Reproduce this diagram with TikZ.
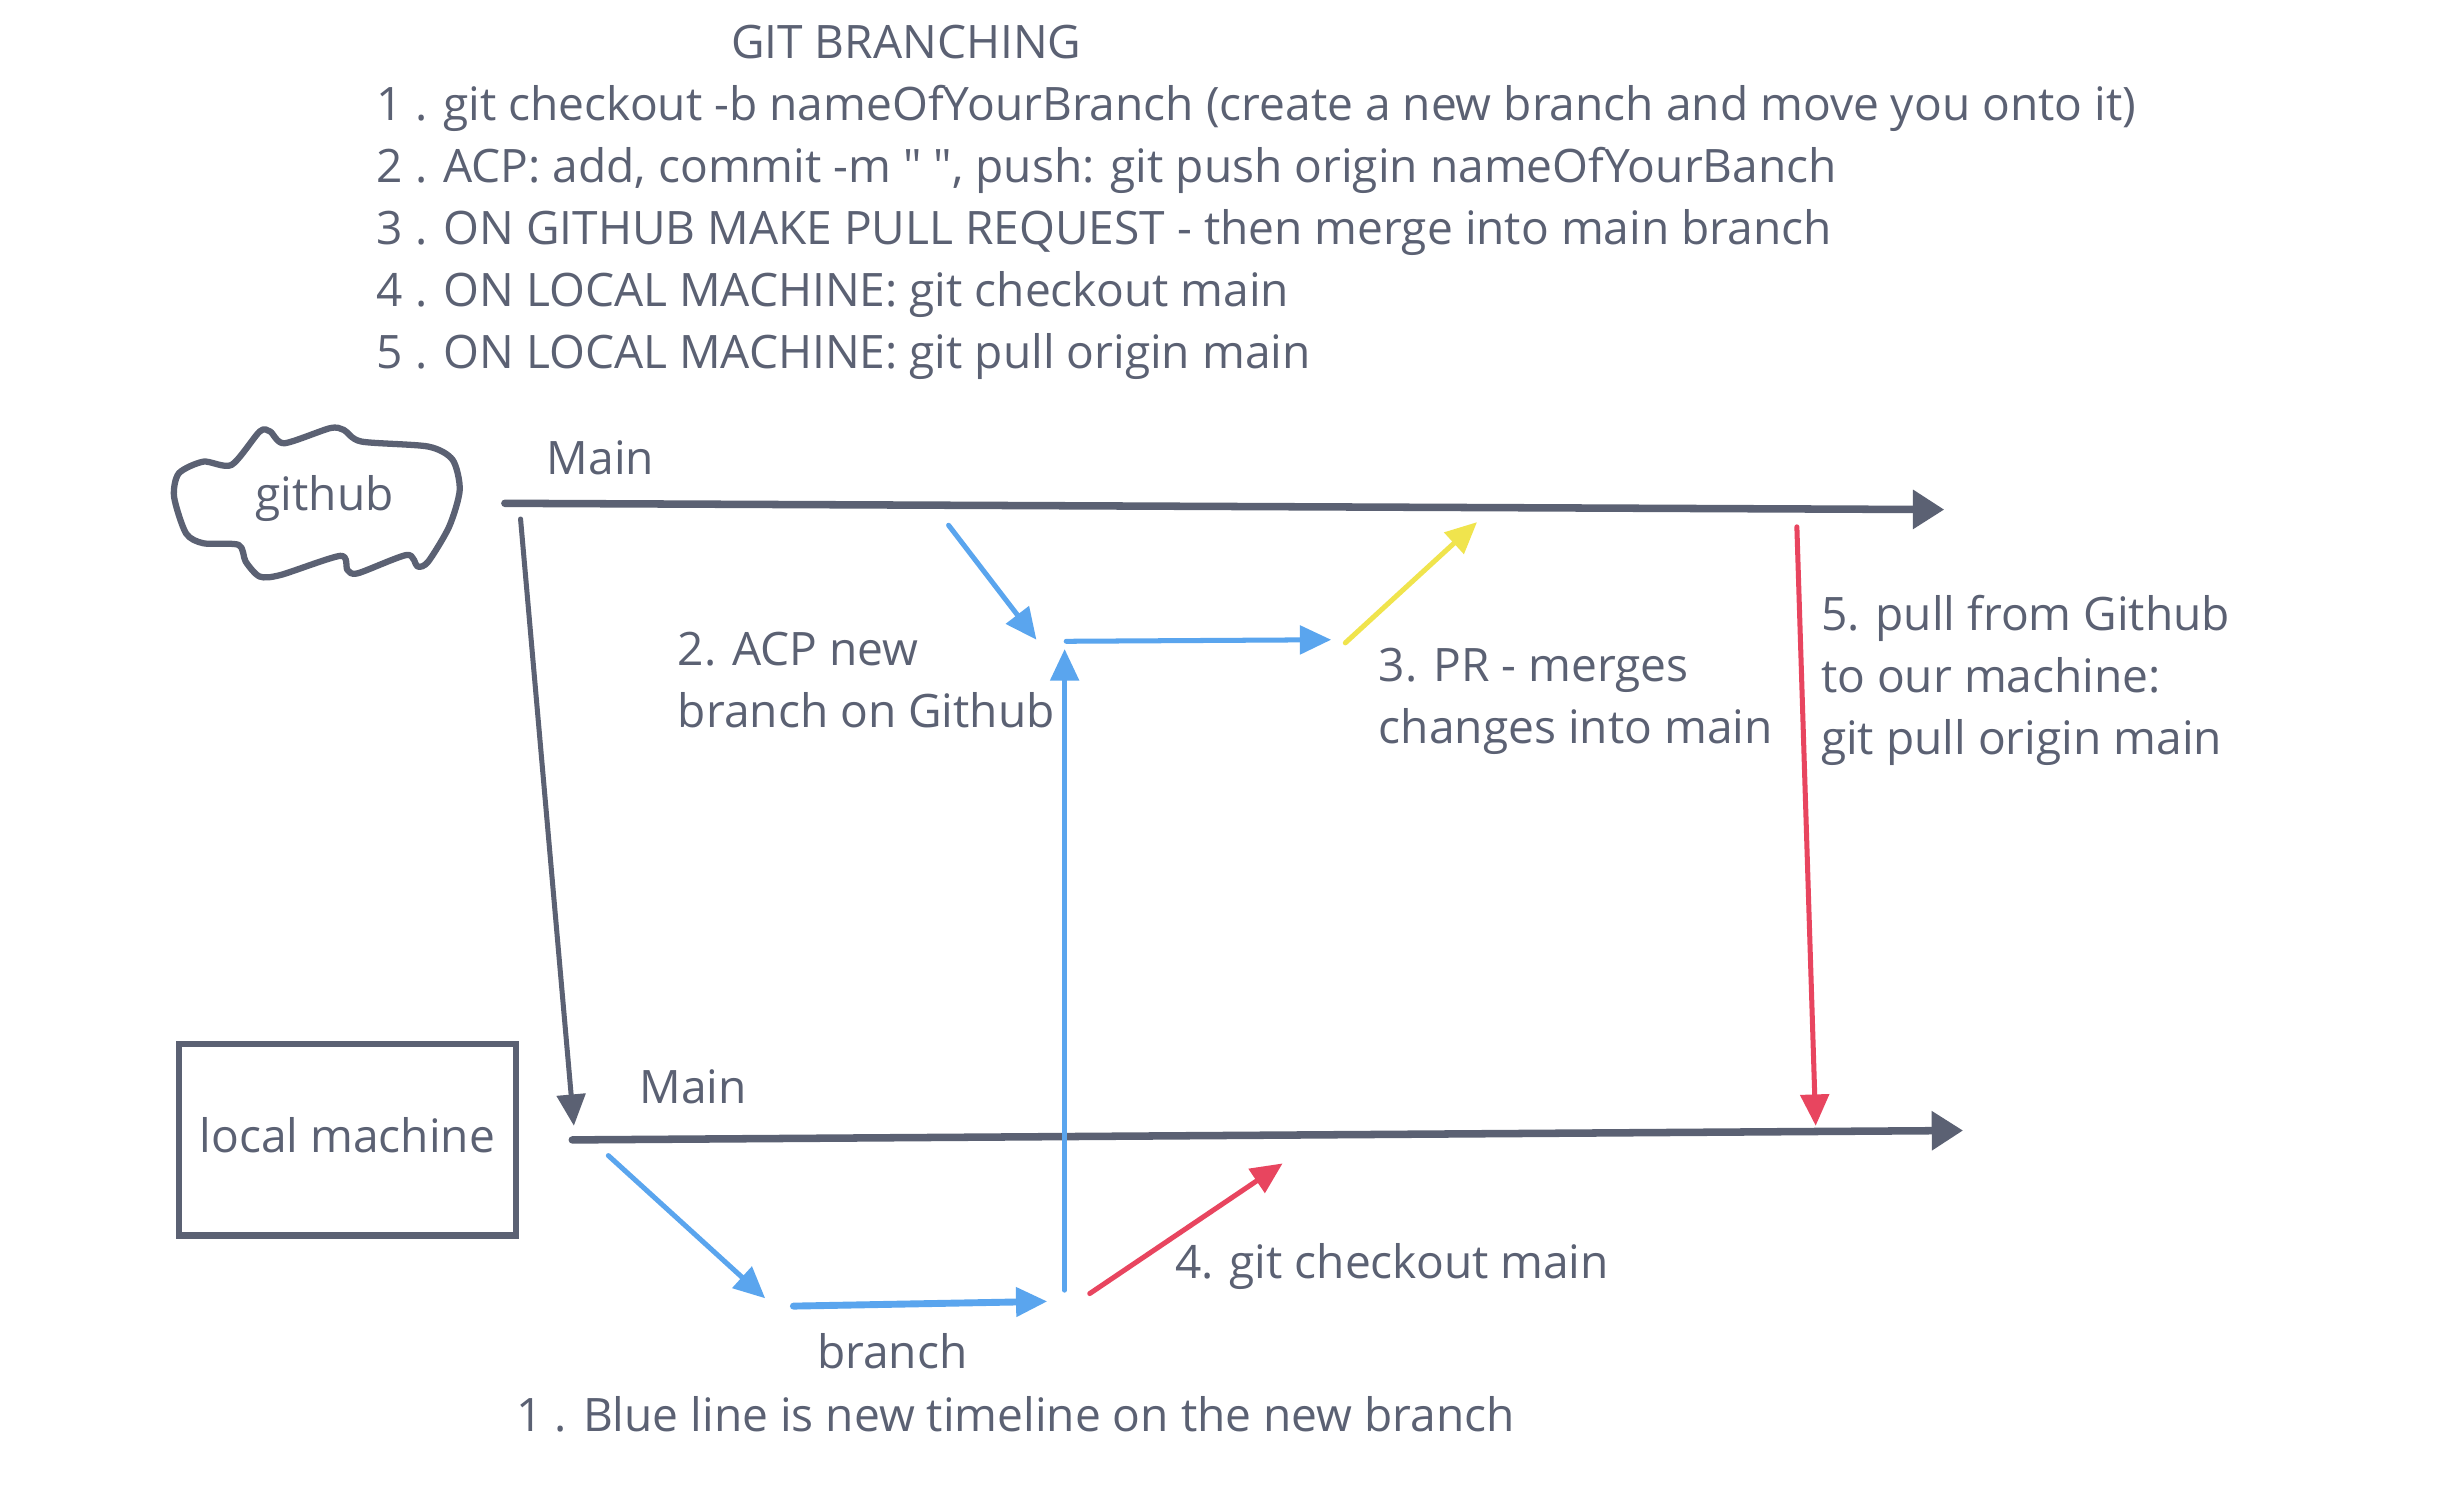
\documentclass[tikz,border=0pt]{standalone}
\usepackage{fontspec}
\setmainfont{Open Sans}
\usetikzlibrary{arrows.meta}
\definecolor{ink}{HTML}{5B6173}
\definecolor{bl}{HTML}{5AA5EE}
\definecolor{ye}{HTML}{F0E44D}
\definecolor{rd}{HTML}{E8455F}
\newcommand\straightdq{\XeTeXglyph\XeTeXcharglyph"22\relax}
\tikzset{
  txt/.style={text=ink, font=\fontsize{14.7}{19.75}\selectfont, inner sep=0pt, align=left},
  mainline/.style={draw=ink, line width=2.4pt, line cap=round, -{Triangle[length=10pt,width=12pt]}},
  thinarr/.style={line width=1.6pt, line cap=round, -{Triangle[length=10pt,width=9pt]}},
  bluearr/.style={thinarr, draw=bl, fill=bl},
  redarr/.style={thinarr, draw=rd, fill=rd},
  yelarr/.style={thinarr, draw=ye, fill=ye},
  darkarr/.style={thinarr, draw=ink, fill=ink},
}
\begin{document}
\begin{tikzpicture}[x=0.5pt,y=-0.5pt]
\useasboundingbox[fill=white] (0,0) rectangle (1560,954);

% title and steps
\node[txt] (title) at (578,27) {GIT BRANCHING};
\node[txt, anchor=west] (steps) at (240,148) {1 . git checkout -b nameOfYourBranch (create a new branch and move you onto it)\\
2 . ACP: add, commit -m \straightdq\ \straightdq, push: git push origin nameOfYourBanch\\
3 . ON GITHUB MAKE PULL REQUEST - then merge into main branch\\
4 . ON LOCAL MACHINE: git checkout main\\
5 . ON LOCAL MACHINE: git pull origin main};

% github cloud
\draw[ink, line width=2pt, line join=round] plot[smooth cycle, tension=0.45] coordinates {
(147.7,296.5) (129.8,294.4) (114.1,301.8) (111,316.7) (118.6,340.1) (129.8,346.5)
(152.2,347.5) (156.7,358.2) (165.6,367.7) (179,366.7) (217.1,354.5) (221.6,363.5)
(228.3,365.6) (259.6,353.9) (266.3,361.3) (273.1,358.2) (286.5,335.8) (293.2,312.5)
(288.7,293.3) (273.1,284.8) (230.5,281.6) (219.3,274.2) (210.4,273.1) (181.3,282.7)
(172.3,275.2) (165.6,275.2)};
\node[txt] (github) at (207,318) {github};

% local machine box
\draw[ink, line width=2pt] (114,666) rectangle (329,788);
\node[txt] (local) at (221.5,724) {local machine};

% labels
\node[txt] (mainTop) at (383,292) {Main};
\node[txt] (mainBot) at (442,693) {Main};
\node[txt, anchor=west] (acp) at (432,434) {2. ACP new\\branch on Github};
\node[txt, anchor=west] (pr) at (879,447) {3. PR - merges\\changes into main};
\node[txt, anchor=west] (pull) at (1161,434) {5. pull from Github\\to our machine:\\git pull origin main};
\node[txt, anchor=west] (chk) at (749,808) {4. git checkout main};
\node[txt] (branch) at (569,862) {branch};
\node[txt, anchor=west] (note) at (329,902) {1 . Blue line is new timeline on the new branch};

% coordinates
\coordinate (t0) at (322,321);
\coordinate (t1) at (1240,325);
\coordinate (b0) at (365,727);
\coordinate (b1) at (1252,721);
\coordinate (d0) at (332,331);
\coordinate (d1) at (366,718);
\coordinate (u0) at (388,737);
\coordinate (u1) at (488,828);
\coordinate (h0) at (506,833);
\coordinate (h1) at (668,830);
\coordinate (v0) at (679,823);
\coordinate (v1) at (679,414);
\coordinate (p0) at (605,335);
\coordinate (p1) at (661,408);
\coordinate (q0) at (680,409);
\coordinate (q1) at (849,408);
\coordinate (y0) at (858,410);
\coordinate (y1) at (942,333);
\coordinate (r0) at (695,825);
\coordinate (r1) at (818,742);
\coordinate (s0) at (1146,336);
\coordinate (s1) at (1158,718);

% main timelines
\draw[mainline] (t0) -- (t1);
\draw[mainline] (b0) -- (b1);
\draw[darkarr] (d0) -- (d1);

% blue branch
\draw[bluearr] (u0) -- (u1);
\draw[bluearr, line width=2.2pt] (h0) -- (h1);
\draw[bluearr, line width=1.4pt] (v0) -- (v1);
\draw[bluearr] (p0) -- (p1);
\draw[bluearr] (q0) -- (q1);

% PR merge
\draw[yelarr] (y0) -- (y1);

% red arrows
\draw[redarr] (r0) -- (r1);
\draw[redarr] (s0) -- (s1);
\end{tikzpicture}
\end{document}
